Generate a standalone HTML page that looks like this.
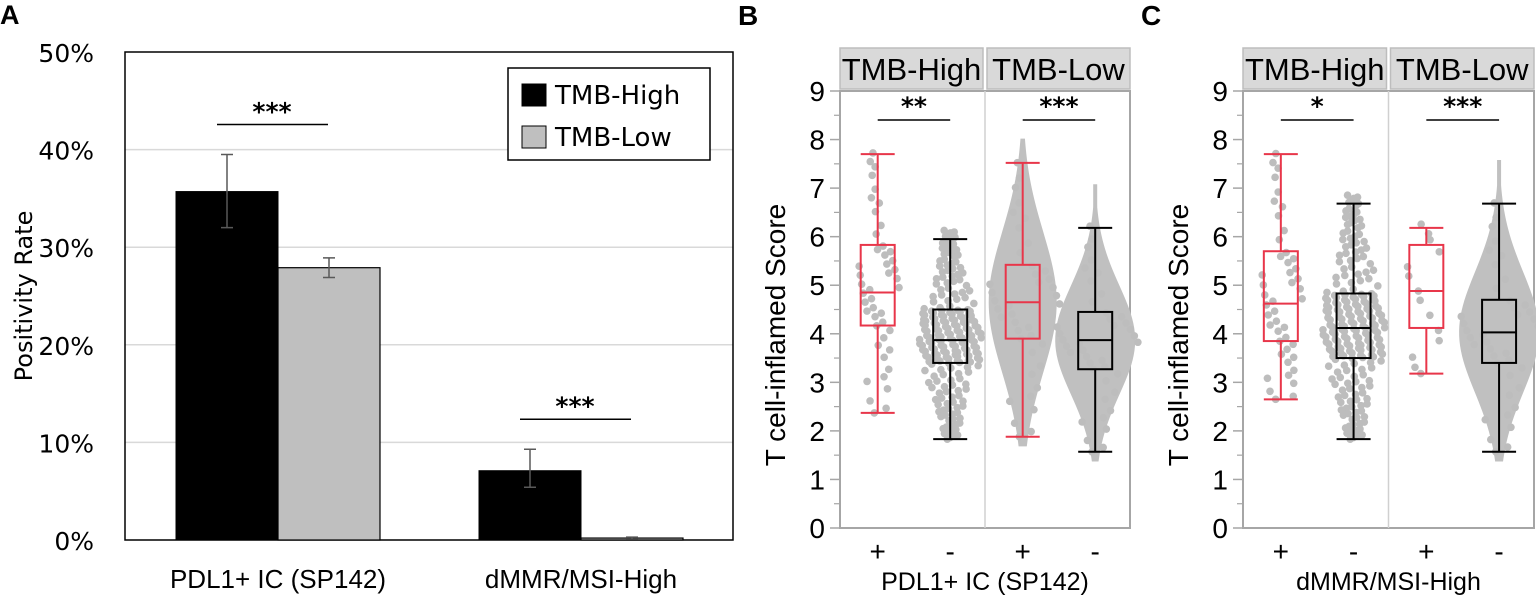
<!DOCTYPE html>
<html><head><meta charset="utf-8"><style>
html,body{margin:0;padding:0;background:#fff;}
svg{display:block;}
</style></head><body>
<svg id="fig" width="1536" height="598" xmlns="http://www.w3.org/2000/svg">
<g id="pa"></g>
<g id="pb"></g>
<g id="pc"></g>
</svg>
<script>
// Panel A data
const aCategories = ["PDL1+ IC (SP142)", "dMMR/MSI-High"];
const aSeriesNames = ["TMB-High", "TMB-Low"];
const aHigh = [35.7, 7.1];
const aLow = [27.9, 0.2];
const aHighErrLo = [32.0, 5.4];
const aHighErrHi = [39.5, 9.3];
const aLowErrLo = [26.9, 0.1];
const aLowErrHi = [28.9, 0.3];
const aTicks = [0, 10, 20, 30, 40, 50];
const aSig = ["***", "***"];

// Panel B/C data: [whiskerLow, q1, median, q3, whiskerHigh]
const bcGroups = ["+", "-", "+", "-"];
const bcFacets = ["TMB-High", "TMB-Low"];
const bStats = [[2.37,4.17,4.85,5.83,7.7],[1.83,3.4,3.87,4.5,5.95],[1.88,3.9,4.65,5.42,7.52],[1.57,3.27,3.87,4.45,6.18]];
const cStats = [[2.65,3.85,4.62,5.7,7.7],[1.83,3.5,4.12,4.83,6.68],[3.18,4.12,4.88,5.83,6.18],[1.57,3.4,4.03,4.7,6.68]];
const bSig = ["**", "***"];
const cSig = ["*", "***"];
const bcTicks = [0,1,2,3,4,5,6,7,8,9];

const NS = "http://www.w3.org/2000/svg";
function mk(parent, tag, attrs, text){
  const e = document.createElementNS(NS, tag);
  for (const k in attrs) e.setAttribute(k, attrs[k]);
  if (text !== undefined) e.textContent = text;
  parent.appendChild(e);
  return e;
}

// ---------- Panel A ----------
(function(){
  const g = document.getElementById('pa');
  const L=125, R=733, T=52, B=540;
  const y = v => B - (v/50)*(B-T);
  const groupCenter = i => 278 + i*303;
  const bw = 102;
  const lbl = mk(g,'text',{x:0,y:24,'font-family':'Liberation Sans, sans-serif','font-weight':'bold','font-size':27},'A');
  
  
  aTicks.forEach(t=>{
    if (t>0 && t<50){
      const gl = mk(g,'line',{x1:L,x2:R,y1:y(t),y2:y(t),stroke:'#d9d9d9','stroke-width':1.5});
      
      
    }
    const tl = mk(g,'text',{x:94,y:y(t)+10,'text-anchor':'end','font-family':'DejaVu Sans, sans-serif','font-size':25,fill:'#000'},t+'%');
    
    
  });
  const box = mk(g,'rect',{x:L,y:T,width:R-L,height:B-T,fill:'none',stroke:'#000','stroke-width':1.5});
  
  
  aCategories.forEach((c,i)=>{
    const cx = groupCenter(i);
    const b1 = mk(g,'rect',{x:cx-bw,y:y(aHigh[i]),width:bw,height:B-y(aHigh[i]),fill:'#000',stroke:'#000','stroke-width':1});
    
    
    const b2 = mk(g,'rect',{x:cx,y:y(aLow[i]),width:bw,height:B-y(aLow[i]),fill:'#bfbfbf',stroke:'#000','stroke-width':1.2});
    
    
    [[cx-bw/2,aHighErrLo[i],aHighErrHi[i]],[cx+bw/2,aLowErrLo[i],aLowErrHi[i]]].forEach(e=>{
      const eg = mk(g,'path',{d:`M${e[0]},${y(e[1])}V${y(e[2])}M${e[0]-6},${y(e[1])}h12M${e[0]-6},${y(e[2])}h12`,stroke:'#595959','stroke-width':1.5,fill:'none'});
      
      
    });
    const sy = y(Math.max(aHighErrHi[i],aLowErrHi[i]))-30;
    const sl = mk(g,'line',{x1:cx-61,x2:cx+50,y1:sy,y2:sy,stroke:'#000','stroke-width':1.5});
    
    
    const st = mk(g,'text',{x:cx-6,y:sy-4,'text-anchor':'middle','font-family':'DejaVu Sans, sans-serif','font-weight':'bold','font-size':25},aSig[i]);
    
    
    const xl = mk(g,'text',{x:cx,y:588,'text-anchor':'middle','font-family':'Liberation Sans, sans-serif','font-size':26},c);
    
    
  });
  const yt = mk(g,'text',{x:0,y:0,transform:'translate(32,296) rotate(-90)','text-anchor':'middle','font-family':'DejaVu Sans, sans-serif','font-size':24},'Positivity Rate');
  
  
  const lg = mk(g,'g',{});
  
  
  mk(lg,'rect',{x:508,y:68,width:202,height:92,fill:'#fff',stroke:'#000','stroke-width':1.5});
  aSeriesNames.forEach((n,i)=>{
    const en = mk(lg,'g',{});
    
    
    mk(en,'rect',{x:522,y:84+i*42,width:24,height:22,fill:i?'#bfbfbf':'#000',stroke:'#000'});
    mk(en,'text',{x:555,y:104+i*42,'font-family':'DejaVu Sans, sans-serif','font-size':26},n);
  });
})();

// ---------- Panels B & C ----------
function boxPanel(gid, letter, L, R, stats, sig, xTitle){
  const g = document.getElementById(gid);
  const T=91, B=528, HT=48, HB=89;
  const mid = (L+R)/2;
  const y = v => B - v/9*(B-T);
  const half = (R-L)/2;
  const cx = i => L + (i<2?0:half) + (i%2===0 ? 0.26 : 0.76)*half;
  const pl = mk(g,'text',{x:L-102,y:25,'font-family':'Liberation Sans, sans-serif','font-weight':'bold','font-size':28},letter);
  
  
  bcFacets.forEach((f,k)=>{
    const hx = k? mid+2 : L;
    const hw = k? R-mid-2 : mid-L-2;
    const hg = mk(g,'g',{});
    
    
    mk(hg,'rect',{x:hx,y:HT,width:hw,height:HB-HT,fill:'#d9d9d9',stroke:'#bdbdbd','stroke-width':1.5});
    mk(hg,'text',{x:hx+hw/2,y:HB-9,'text-anchor':'middle','font-family':'Liberation Sans, sans-serif','font-size':31},f);
  });
  const fr = mk(g,'rect',{x:L,y:T,width:R-L,height:B-T,fill:'#fff',stroke:'#a6a6a6','stroke-width':2});
  
  
  const dv = mk(g,'line',{x1:mid,x2:mid,y1:T,y2:B,stroke:'#d0d0d0','stroke-width':1.5});
  
  
  bcTicks.forEach(t=>{
    const tk = mk(g,'line',{x1:L-10,x2:L,y1:y(t),y2:y(t),stroke:'#a6a6a6','stroke-width':1.5});
    
    
    if (t<9){
      const mt = mk(g,'line',{x1:L-6,x2:L,y1:y(t+0.5),y2:y(t+0.5),stroke:'#a6a6a6','stroke-width':1.2});
      
      
    }
    const tl = mk(g,'text',{x:L-15,y:y(t)+10,'text-anchor':'end','font-family':'Liberation Sans, sans-serif','font-size':28},t);
    
    
  });
  stats.forEach((s,i)=>{
    const x = cx(i);
    const dense = (i>=2 && s[0]<2) || (i===3);
    const red = i%2===0;
    const sg = mk(g,'g',{});
    
    
    const spread = (s[3]-s[1]);
    const maxW = dense ? (red ? 34 : 40) : (red ? 18 : 28);
    if (dense){
      let pts=[], back=[];
      const lo = s[0]-0.2, hi = s[4]+(red?0.5:0.9);
      for (let k=0;k<=60;k++){
        const v = lo + (hi-lo)*k/60;
        const z = (v - s[2])/(spread*0.95);
        const w = Math.max(2, maxW*Math.exp(-z*z/2));
        pts.push(`${x-w},${y(v)}`); back.unshift(`${x+w},${y(v)}`);
      }
      mk(sg,'polygon',{points:pts.concat(back).join(' '),fill:'#c0c0c0'});
    }
    const n = dense ? 40 : (red ? (s[0]>3 ? 14 : 45) : 220);
    for (let k=0;k<n;k++){
      const u = ((k*0.618034)%1);
      const w2 = ((k*0.7548777+0.3)%1)*2-1;
      const q = u<0.25 ? s[0]+(s[1]-s[0])*(u/0.25) : u<0.75 ? s[1]+(s[3]-s[1])*((u-0.25)/0.5) : s[3]+(s[4]+0.2-s[3])*((u-0.75)/0.25);
      const z = (q - s[2])/(spread*0.9);
      const w = maxW*Math.exp(-z*z/2)+4;
      mk(sg,'circle',{cx:x+w2*w,cy:y(q),r:3.8,fill:'#bdbdbd'});
    }
    const col = red ? '#e8364a' : '#000';
    const bx = mk(g,'g',{fill:'none',stroke:col,'stroke-width':2});
    
    
    const bwid = 17;
    mk(bx,'path',{d:`M${x},${y(s[0])}V${y(s[1])}M${x},${y(s[3])}V${y(s[4])}M${x-bwid},${y(s[0])}h${2*bwid}M${x-bwid},${y(s[4])}h${2*bwid}`});
    mk(bx,'rect',{x:x-bwid,y:y(s[3]),width:2*bwid,height:y(s[1])-y(s[3])});
    mk(bx,'line',{x1:x-bwid,x2:x+bwid,y1:y(s[2]),y2:y(s[2])});
    const xl = mk(g,'text',{x:x,y:561,'text-anchor':'middle','font-family':'Liberation Sans, sans-serif','font-size':28},bcGroups[i]);
    
    
  });
  sig.forEach((s,k)=>{
    const a = cx(2*k), b = cx(2*k+1);
    const sl = mk(g,'line',{x1:a,x2:b,y1:120,y2:120,stroke:'#000','stroke-width':1.5});
    
    
    const st = mk(g,'text',{x:(a+b)/2,y:115,'text-anchor':'middle','font-family':'DejaVu Sans, sans-serif','font-weight':'bold','font-size':25},s);
    
    
  });
  const xt = mk(g,'text',{x:mid,y:590,'text-anchor':'middle','font-family':'Liberation Sans, sans-serif','font-size':25},xTitle);
  
  
  const yt = mk(g,'text',{x:0,y:0,transform:`translate(${L-55},335) rotate(-90)`,'text-anchor':'middle','font-family':'Liberation Sans, sans-serif','font-size':28},'T cell-inflamed Score');
  
  
}
boxPanel('pb','B',840,1130,bStats,bSig,'PDL1+ IC (SP142)');
boxPanel('pc','C',1243,1534,cStats,cSig,'dMMR/MSI-High');
</script>
</body></html>
